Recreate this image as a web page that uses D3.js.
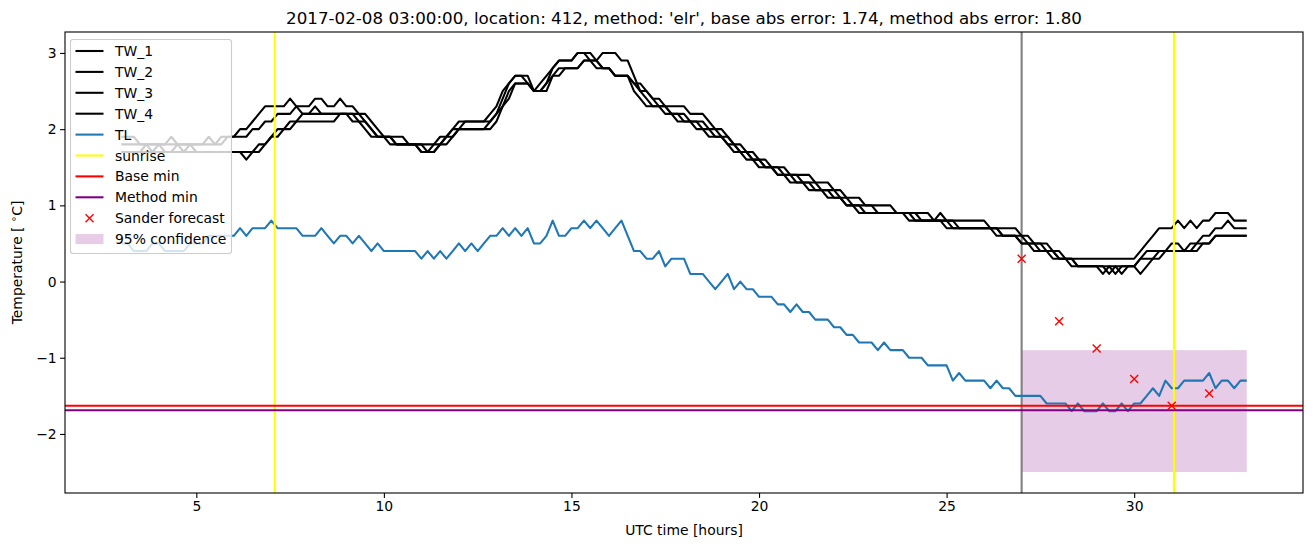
<!DOCTYPE html>
<html><head><meta charset="utf-8">
<script src="https://cdn.jsdelivr.net/npm/d3@7"></script>
<style>body{margin:0;background:#fff;} svg{display:block;font-family:"DejaVu Sans",sans-serif;}</style>
</head><body><svg id="chart" width="1313" height="547"></svg>
<script>
// sampling grid: 10-minute readings from hour 3 to hour 33
const startHour = 3;
const stepHours = 1 / 6;

const TW_1 = [
1.9,1.9,1.9,1.8,1.8,1.8, 1.8,1.8,1.8,1.8,1.8,1.8, 1.8,1.8,1.9,1.8,1.8,1.9,
1.9,2.0,2.0,2.1,2.2,2.3, 2.3,2.3,2.3,2.4,2.3,2.3, 2.3,2.4,2.4,2.3,2.3,2.4,
2.3,2.3,2.2,2.2,2.1,2.0, 1.9,1.9,1.8,1.8,1.8,1.8, 1.7,1.7,1.8,1.9,1.9,2.0,
2.1,2.1,2.1,2.1,2.1,2.2, 2.3,2.5,2.6,2.7,2.7,2.6, 2.5,2.6,2.7,2.8,2.9,2.9,
2.9,3.0,3.0,2.9,2.9,3.0, 3.0,3.0,2.9,2.9,2.7,2.5, 2.5,2.4,2.4,2.3,2.3,2.3,
2.3,2.2,2.2,2.2,2.1,2.0, 2.0,1.9,1.8,1.8,1.7,1.7, 1.6,1.6,1.5,1.5,1.5,1.4,
1.4,1.4,1.4,1.3,1.3,1.3, 1.2,1.2,1.1,1.1,1.1,1.0, 1.0,1.0,1.0,1.0,0.9,0.9,
0.9,0.9,0.9,0.9,0.8,0.8, 0.8,0.8,0.8,0.8,0.8,0.8, 0.8,0.7,0.7,0.7,0.7,0.7,
0.6,0.6,0.5,0.5,0.5,0.4, 0.4,0.3,0.3,0.3,0.3,0.3, 0.3,0.3,0.3,0.3,0.3,0.3,
0.3,0.4,0.5,0.6,0.7,0.7, 0.7,0.8,0.7,0.8,0.7,0.8, 0.8,0.9,0.9,0.9,0.8,0.8,
0.8];
const TW_2 = [
1.8,1.8,1.8,1.8,1.8,1.8, 1.8,1.8,1.9,1.8,1.8,1.8, 1.8,1.8,1.8,1.8,1.9,1.9,
1.9,1.9,1.9,2.0,2.0,2.1, 2.1,2.2,2.2,2.2,2.3,2.2, 2.2,2.2,2.2,2.2,2.2,2.2,
2.2,2.2,2.2,2.1,2.0,1.9, 1.9,1.9,1.9,1.9,1.8,1.8, 1.8,1.8,1.8,1.8,1.9,2.0,
2.0,2.1,2.1,2.1,2.1,2.1, 2.2,2.4,2.6,2.7,2.7,2.7, 2.5,2.5,2.6,2.8,2.9,2.9,
2.9,3.0,3.0,3.0,2.9,2.8, 2.8,2.7,2.7,2.7,2.6,2.5, 2.4,2.3,2.3,2.3,2.2,2.2,
2.2,2.1,2.1,2.1,2.0,2.0, 1.9,1.9,1.8,1.7,1.7,1.6, 1.6,1.5,1.5,1.5,1.4,1.4,
1.4,1.3,1.3,1.3,1.2,1.2, 1.2,1.1,1.1,1.0,1.0,1.0, 1.0,0.9,0.9,0.9,0.9,0.9,
0.9,0.9,0.8,0.8,0.8,0.9, 0.8,0.8,0.7,0.7,0.7,0.7, 0.7,0.7,0.7,0.6,0.6,0.6,
0.6,0.5,0.5,0.5,0.4,0.4, 0.3,0.3,0.3,0.2,0.2,0.2, 0.2,0.2,0.1,0.2,0.1,0.2,
0.2,0.3,0.4,0.4,0.4,0.4, 0.5,0.5,0.4,0.5,0.5,0.6, 0.6,0.7,0.7,0.8,0.7,0.7,
0.7];
const TW_3 = [
1.7,1.7,1.7,1.7,1.8,1.7, 1.7,1.7,1.7,1.8,1.7,1.7, 1.7,1.7,1.7,1.7,1.7,1.7,
1.7,1.7,1.6,1.7,1.8,1.8, 1.9,2.0,2.0,2.1,2.1,2.2, 2.2,2.3,2.2,2.2,2.2,2.2,
2.2,2.2,2.1,2.1,2.0,1.9, 1.9,1.8,1.8,1.8,1.8,1.8, 1.8,1.7,1.7,1.8,1.9,1.9,
2.0,2.0,2.0,2.0,2.0,2.1, 2.2,2.3,2.5,2.6,2.6,2.6, 2.5,2.5,2.5,2.7,2.8,2.8,
2.8,2.8,2.9,2.9,2.8,2.8, 2.8,2.7,2.7,2.7,2.6,2.6, 2.5,2.4,2.3,2.3,2.2,2.2,
2.1,2.1,2.1,2.0,2.0,1.9, 1.9,1.8,1.8,1.7,1.7,1.6, 1.6,1.5,1.5,1.4,1.4,1.4,
1.3,1.3,1.3,1.2,1.2,1.2, 1.1,1.1,1.0,1.0,1.0,0.9, 0.9,0.9,0.9,0.9,0.9,0.9,
0.8,0.8,0.8,0.8,0.8,0.8, 0.8,0.7,0.7,0.7,0.7,0.7, 0.7,0.7,0.6,0.6,0.6,0.6,
0.5,0.5,0.5,0.4,0.4,0.4, 0.3,0.3,0.2,0.2,0.2,0.2, 0.2,0.1,0.2,0.1,0.2,0.2,
0.2,0.1,0.2,0.3,0.4,0.4, 0.4,0.4,0.4,0.4,0.4,0.5, 0.5,0.6,0.6,0.6,0.6,0.6,
0.6];
const TW_4 = [
1.7,1.7,1.7,1.7,1.7,1.7, 1.8,1.7,1.7,1.7,1.7,1.8, 1.7,1.7,1.7,1.7,1.7,1.7,
1.7,1.7,1.7,1.7,1.7,1.8, 1.9,1.9,2.0,2.0,2.1,2.1, 2.1,2.1,2.1,2.1,2.1,2.2,
2.2,2.1,2.1,2.0,1.9,1.9, 1.9,1.9,1.8,1.8,1.8,1.8, 1.7,1.7,1.7,1.8,1.8,1.9,
2.0,2.0,2.0,2.0,2.0,2.0, 2.1,2.3,2.4,2.6,2.6,2.6, 2.5,2.5,2.6,2.7,2.7,2.8,
2.8,2.8,2.9,2.9,2.9,2.8, 2.8,2.7,2.7,2.7,2.5,2.4, 2.3,2.3,2.3,2.2,2.2,2.1,
2.1,2.1,2.0,2.0,1.9,1.9, 1.9,1.8,1.7,1.7,1.6,1.6, 1.5,1.5,1.5,1.4,1.4,1.3,
1.3,1.3,1.2,1.2,1.2,1.1, 1.1,1.1,1.0,1.0,0.9,0.9, 0.9,0.9,0.9,0.9,0.9,0.9,
0.9,0.8,0.8,0.8,0.8,0.8, 0.7,0.7,0.7,0.7,0.7,0.7, 0.7,0.7,0.7,0.6,0.6,0.6,
0.5,0.5,0.4,0.4,0.4,0.3, 0.3,0.3,0.3,0.2,0.2,0.2, 0.2,0.2,0.2,0.2,0.2,0.2,
0.2,0.3,0.3,0.3,0.3,0.4, 0.4,0.4,0.4,0.4,0.5,0.5, 0.5,0.6,0.6,0.6,0.6,0.6,
0.6];
const TL = [
0.5,0.5,0.4,0.4,0.4,0.5, 0.5,0.4,0.4,0.4,0.4,0.5, 0.5,0.5,0.6,0.6,0.6,0.6,
0.6,0.7,0.6,0.7,0.7,0.7, 0.8,0.7,0.7,0.7,0.7,0.6, 0.6,0.6,0.7,0.6,0.5,0.6,
0.6,0.5,0.6,0.5,0.4,0.5, 0.4,0.4,0.4,0.4,0.4,0.4, 0.3,0.4,0.3,0.4,0.3,0.4,
0.5,0.4,0.5,0.4,0.5,0.6, 0.6,0.7,0.6,0.7,0.6,0.7, 0.5,0.5,0.6,0.8,0.6,0.6,
0.7,0.7,0.8,0.7,0.8,0.7, 0.6,0.7,0.8,0.6,0.4,0.4, 0.3,0.3,0.4,0.2,0.3,0.3,
0.3,0.1,0.1,0.1,0.0,-0.1, 0.0,0.1,-0.1,0.0,-0.1,-0.1, -0.2,-0.2,-0.2,-0.3,-0.3,-0.4,
-0.3,-0.4,-0.4,-0.5,-0.5,-0.5, -0.6,-0.6,-0.7,-0.7,-0.8,-0.8, -0.8,-0.9,-0.8,-0.9,-0.9,-0.9,
-1.0,-1.0,-1.0,-1.1,-1.1,-1.1, -1.1,-1.3,-1.2,-1.3,-1.3,-1.3, -1.3,-1.4,-1.3,-1.4,-1.4,-1.5,
-1.5,-1.5,-1.5,-1.5,-1.6,-1.6, -1.6,-1.6,-1.7,-1.6,-1.7,-1.7, -1.7,-1.6,-1.7,-1.7,-1.6,-1.7,
-1.6,-1.6,-1.5,-1.4,-1.5,-1.3, -1.4,-1.4,-1.3,-1.3,-1.3,-1.3, -1.2,-1.4,-1.3,-1.3,-1.4,-1.3,
-1.3];

const sunriseHours = [7.09, 31.06];
const forecastTime = 27;
const baseMin = -1.63;
const methodMin = -1.69;
const sanderHours = [27, 28, 29, 30, 31, 32];
const sanderValues = [0.30, -0.52, -0.88, -1.28, -1.63, -1.47];
const confHours = [27, 33];
const confLow = -2.5, confHigh = -0.9;
const xTicks = [5, 10, 15, 20, 25, 30];
const yTicks = [-2, -1, 0, 1, 2, 3];
const titleText = "2017-02-08 03:00:00, location: 412, method: 'elr', base abs error: 1.74, method abs error: 1.80";

const W = 1313, H = 547;
const M = {left: 65, right: 1303, top: 32, bottom: 493};
const svg = d3.select("#chart");
const x = d3.scaleLinear().domain([1.5, 34.5]).range([M.left, M.right]);
const y = d3.scaleLinear().domain([-2.775, 3.275]).range([M.bottom, M.top]);
const times = TL.map((_, i) => startHour + i * stepHours);
const LW = 2.08;

svg.append("defs").append("clipPath").attr("id", "clip")
  .append("rect").attr("x", M.left).attr("y", M.top)
  .attr("width", M.right - M.left).attr("height", M.bottom - M.top);
const g = svg.append("g").attr("clip-path", "url(#clip)");

// confidence band
g.append("rect")
  .attr("x", x(confHours[0])).attr("width", x(confHours[1]) - x(confHours[0]))
  .attr("y", y(confHigh)).attr("height", y(confLow) - y(confHigh))
  .attr("fill", "purple").attr("fill-opacity", 0.2);

// forecast time
g.append("line").attr("x1", x(forecastTime)).attr("x2", x(forecastTime))
  .attr("y1", M.top).attr("y2", M.bottom).attr("stroke", "gray").attr("stroke-width", LW);

const line = d3.line().x((d, i) => x(times[i])).y(d => y(d));
[TW_1, TW_2, TW_3, TW_4].forEach(s => {
  g.append("path").datum(s).attr("d", line).attr("fill", "none")
    .attr("stroke", "black").attr("stroke-width", LW).attr("stroke-linejoin", "round");
});
g.append("path").datum(TL).attr("d", line).attr("fill", "none")
  .attr("stroke", "#1f77b4").attr("stroke-width", LW).attr("stroke-linejoin", "round");

sunriseHours.forEach(h => {
  g.append("line").attr("x1", x(h)).attr("x2", x(h)).attr("y1", M.top).attr("y2", M.bottom)
    .attr("stroke", "yellow").attr("stroke-width", LW);
});
g.append("line").attr("x1", M.left).attr("x2", M.right).attr("y1", y(baseMin)).attr("y2", y(baseMin))
  .attr("stroke", "red").attr("stroke-width", LW);
g.append("line").attr("x1", M.left).attr("x2", M.right).attr("y1", y(methodMin)).attr("y2", y(methodMin))
  .attr("stroke", "purple").attr("stroke-width", LW);

const xm = "M-4,-4L4,4M-4,4L4,-4";
sanderHours.forEach((h, i) => {
  g.append("path").attr("d", xm).attr("transform", `translate(${x(h)},${y(sanderValues[i])})`)
    .attr("stroke", "red").attr("stroke-width", 1.4).attr("fill", "none");
});

// axes
const fmt = d => d < 0 ? "\u2212" + Math.abs(d) : String(d);
const ax = svg.append("g").attr("transform", `translate(0,${M.bottom})`)
  .call(d3.axisBottom(x).tickValues(xTicks).tickFormat(fmt).tickSize(4.9).tickPadding(3.5).tickSizeOuter(0));
const ay = svg.append("g").attr("transform", `translate(${M.left},0)`)
  .call(d3.axisLeft(y).tickValues(yTicks).tickFormat(fmt).tickSize(4.9).tickPadding(3.5).tickSizeOuter(0));
[ax, ay].forEach(a => {
  a.select(".domain").remove();
  a.selectAll(".tick line").attr("stroke", "black").attr("stroke-width", 1.1);
  a.selectAll(".tick text").attr("font-size", 13.9).attr("font-family", "DejaVu Sans").attr("fill", "black");
});
svg.append("rect").attr("x", M.left).attr("y", M.top)
  .attr("width", M.right - M.left).attr("height", M.bottom - M.top)
  .attr("fill", "none").attr("stroke", "black").attr("stroke-width", 1.1);

svg.append("text").attr("x", (M.left + M.right) / 2).attr("y", 24)
  .attr("text-anchor", "middle").attr("font-size", 16.7).text(titleText);
svg.append("text").attr("x", (M.left + M.right) / 2).attr("y", 535)
  .attr("text-anchor", "middle").attr("font-size", 13.9).text("UTC time [hours]");
const yl = svg.append("text").attr("transform", `translate(22,${(M.top + M.bottom) / 2}) rotate(-90)`)
  .attr("text-anchor", "middle").attr("font-size", 13.9);
yl.append("tspan").text("Temperature [ ");
yl.append("tspan").attr("font-size", 10).attr("dy", -5).text("\u2218");
yl.append("tspan").attr("dy", 5).text("C]");

// legend
const legendItems = [
  {label: "TW_1", type: "line", color: "black"},
  {label: "TW_2", type: "line", color: "black"},
  {label: "TW_3", type: "line", color: "black"},
  {label: "TW_4", type: "line", color: "black"},
  {label: "TL", type: "line", color: "#1f77b4"},
  {label: "sunrise", type: "line", color: "yellow"},
  {label: "Base min", type: "line", color: "red"},
  {label: "Method min", type: "line", color: "purple"},
  {label: "Sander forecast", type: "marker", color: "red"},
  {label: "95% confidence", type: "patch", color: "purple"}
];
const lg = svg.append("g");
lg.append("rect").attr("x", 70.5).attr("y", 39.5).attr("width", 161).attr("height", 214)
  .attr("rx", 2.8).attr("fill", "white").attr("fill-opacity", 0.8)
  .attr("stroke", "#cccccc").attr("stroke-width", 1.1);
legendItems.forEach((d, k) => {
  const cy = 51 + k * 20.9;
  if (d.type === "line") {
    lg.append("line").attr("x1", 75.5).attr("x2", 103.5).attr("y1", cy).attr("y2", cy)
      .attr("stroke", d.color).attr("stroke-width", LW);
  } else if (d.type === "marker") {
    lg.append("path").attr("d", xm).attr("transform", `translate(89.5,${cy})`)
      .attr("stroke", d.color).attr("stroke-width", 1.4).attr("fill", "none");
  } else {
    lg.append("rect").attr("x", 75.5).attr("y", cy - 5).attr("width", 28).attr("height", 10)
      .attr("fill", d.color).attr("fill-opacity", 0.2);
  }
  lg.append("text").attr("x", 115).attr("y", cy + 5).attr("font-size", 13.9).text(d.label);
});
</script></body></html>
